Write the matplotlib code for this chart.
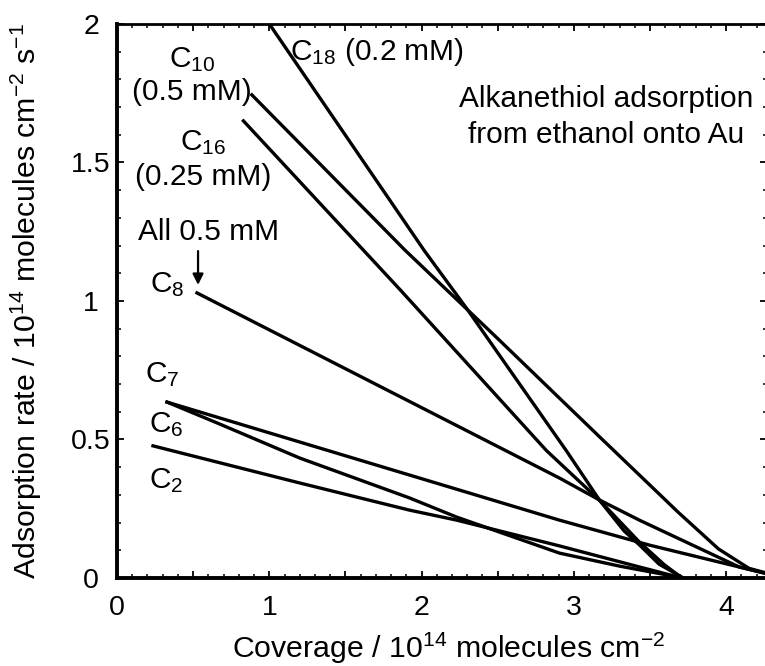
import matplotlib
matplotlib.use('Agg')
import matplotlib.pyplot as plt
from matplotlib.ticker import MultipleLocator, FuncFormatter

plt.rcParams['font.family'] = ['Liberation Sans', 'DejaVu Sans']
plt.rcParams['mathtext.fontset'] = 'custom'
plt.rcParams['mathtext.rm'] = 'Liberation Sans'
plt.rcParams['mathtext.it'] = 'Liberation Sans:italic'
plt.rcParams['mathtext.bf'] = 'Liberation Sans:bold'

# coverage (1e14 molecules/cm2) vs adsorption rate
c18_x = [1.00, 2.02, 2.30, 2.95, 3.17, 3.33, 3.43, 3.56, 3.72]
c18_y = [2.00, 1.18, 0.97, 0.46, 0.28, 0.17, 0.12, 0.05, 0.00]

c16_x = [0.83, 1.86, 2.82, 3.17, 3.43, 3.59, 3.71]
c16_y = [1.65, 1.04, 0.46, 0.28, 0.13, 0.05, 0.00]

c10_x = [0.885, 1.89, 2.51, 3.17, 3.69, 3.95, 4.15, 4.32]
c10_y = [1.744, 1.184, 0.859, 0.509, 0.235, 0.105, 0.035, 0.01]

c8_x = [0.525, 2.905, 3.167, 3.43, 4.085, 4.25, 4.32]
c8_y = [1.029, 0.361, 0.282, 0.209, 0.040, 0.018, 0.01]

c7_x = [0.328, 2.905, 3.495, 4.085, 4.25, 4.32]
c7_y = [0.635, 0.209, 0.119, 0.040, 0.018, 0.01]

c6_x = [0.328, 0.656, 1.20, 1.921, 2.23, 2.905, 3.30, 3.72]
c6_y = [0.635, 0.560, 0.433, 0.289, 0.220, 0.090, 0.043, 0.00]

c2_x = [0.236, 1.20, 1.921, 2.23, 2.905, 3.43, 3.71]
c2_y = [0.477, 0.343, 0.245, 0.209, 0.116, 0.040, 0.00]

curves = [(c18_x, c18_y), (c16_x, c16_y), (c10_x, c10_y), (c8_x, c8_y),
          (c7_x, c7_y), (c6_x, c6_y), (c2_x, c2_y)]

fig = plt.figure(figsize=(7.65, 6.66), dpi=100)
ax = fig.add_axes([0.153, 0.1321, 0.8497, 0.832])

for xs, ys in curves:
    ax.plot(xs, ys, color='k', lw=2.4, solid_joinstyle='round')

ax.set_xlim(0, 4.269)
ax.set_ylim(0, 2)

for s in ['left', 'bottom']:
    ax.spines[s].set_linewidth(2.8)
for s in ['top', 'right']:
    ax.spines[s].set_linewidth(2.0)

ax.xaxis.set_major_locator(MultipleLocator(0.5))
ax.xaxis.set_minor_locator(MultipleLocator(0.1))
ax.yaxis.set_major_locator(MultipleLocator(0.5))
ax.yaxis.set_minor_locator(MultipleLocator(0.1))
ax.xaxis.set_major_formatter(FuncFormatter(
    lambda v, p: '%d' % round(v) if abs(v - round(v)) < 1e-6 else ''))
ax.yaxis.set_major_formatter(FuncFormatter(lambda v, p: '%g' % v))

ax.tick_params(which='both', direction='in', top=True, right=True)
ax.tick_params(which='major', length=5, width=1.3, labelsize=20.5)
ax.tick_params(which='minor', length=3, width=1.1)
ax.tick_params(axis='x', which='major', pad=12)
ax.tick_params(axis='y', which='major', pad=18.7)
fig.canvas.draw()
plt.setp(ax.get_yticklabels(), ha='center')

ax.set_xlabel('Coverage / 10$^{14}$ molecules cm$^{-2}$', fontsize=21.8,
              va='baseline')
ax.xaxis.set_label_coords(0.51, -0.1444)
ax.set_ylabel('Adsorption rate / 10$^{14}$ molecules cm$^{-2}$ s$^{-1}$',
              fontsize=21.8)
ax.yaxis.set_label_coords(-0.113, 0.5)

fs = 21.5
ax.text(1.136, 1.87, 'C$_{18}$ (0.2 mM)', fontsize=fs, ha='left', va='baseline')
ax.text(0.493, 1.845, 'C$_{10}$', fontsize=fs, ha='center', va='baseline')
ax.text(0.49, 1.726, '(0.5 mM)', fontsize=fs, ha='center', va='baseline')
ax.text(0.567, 1.545, 'C$_{16}$', fontsize=fs, ha='center', va='baseline')
ax.text(0.568, 1.419, '(0.25 mM)', fontsize=fs, ha='center', va='baseline')
ax.text(0.60, 1.22, 'All 0.5 mM', fontsize=fs, ha='center', va='baseline')
ax.text(0.33, 1.032, 'C$_8$', fontsize=fs, ha='center', va='baseline')
ax.text(0.296, 0.708, 'C$_7$', fontsize=fs, ha='center', va='baseline')
ax.text(0.32, 0.527, 'C$_6$', fontsize=fs, ha='center', va='baseline')
ax.text(0.32, 0.325, 'C$_2$', fontsize=fs, ha='center', va='baseline')
ax.text(3.21, 1.700, 'Alkanethiol adsorption', fontsize=fs, ha='center', va='baseline')
ax.text(3.21, 1.570, 'from ethanol onto Au', fontsize=fs, ha='center', va='baseline')

ax.annotate('', xy=(0.532, 1.058), xytext=(0.532, 1.18),
            arrowprops=dict(arrowstyle='-|>', color='k', lw=1.6,
                            mutation_scale=16, shrinkA=0, shrinkB=0))

fig.savefig('out.png', dpi=100)
